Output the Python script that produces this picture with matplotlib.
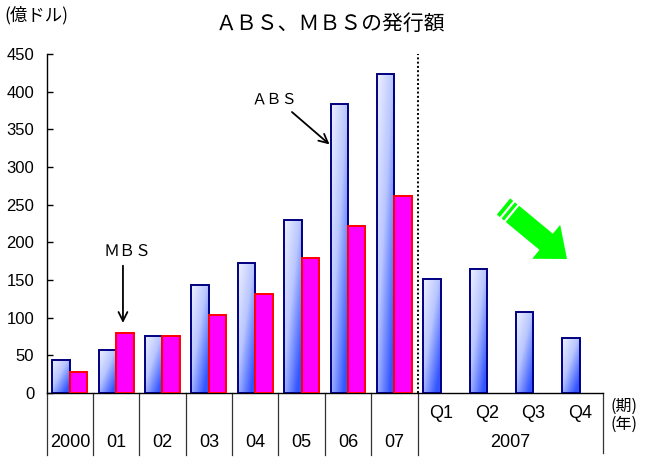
import numpy as np
import matplotlib
matplotlib.use("Agg")
import matplotlib.pyplot as plt
from matplotlib.patches import Polygon
from matplotlib.colors import LinearSegmentedColormap

# ---- data ----
categories = ["2000", "01", "02", "03", "04", "05", "06", "07", "Q1", "Q2", "Q3", "Q4"]
abs_values = [44, 57, 76, 143, 172, 229, 384, 423, 151, 165, 108, 73]
mbs_values = [28, 79, 76, 104, 131, 179, 222, 261]
year_labels = ["2000", "01", "02", "03", "04", "05", "06", "07"]
quarter_labels = ["Q1", "Q2", "Q3", "Q4"]
quarter_year = "2007"
yticks = [0, 50, 100, 150, 200, 250, 300, 350, 400, 450]

NARROW = ["Liberation Sans Narrow", "Liberation Sans", "DejaVu Sans"]
CJK = ["Noto Sans CJK JP", "DejaVu Sans"]

W, H = 645, 457
fig = plt.figure(figsize=(W / 100, H / 100), dpi=100)
ax = fig.add_axes([46.7 / W, 1 - 393 / H, (603 - 46.7) / W, (393 - 54) / H])
ax.set_xlim(0, len(categories))
ax.set_ylim(0, 450)

for s in ["top", "right"]:
    ax.spines[s].set_visible(False)
for s in ["left", "bottom"]:
    ax.spines[s].set_color("black")
    ax.spines[s].set_linewidth(1.0)

ax.set_xticks([])
ax.set_yticks(yticks)
ax.tick_params(axis="y", direction="in", length=4, width=1, pad=9)
for lab in ax.get_yticklabels():
    lab.set_family(NARROW)
    lab.set_fontsize(12)

bw = 0.375
x = np.arange(len(categories)) + 0.5
abs_x = x - 0.19
mbs_x = x[:len(mbs_values)] + 0.185

cmap = LinearSegmentedColormap.from_list("absg", ["#eef1ff", "#b9c6ff", "#3355ff"])
gx, gy = np.meshgrid(np.linspace(0, 1, 40), np.linspace(0, 1, 200))
grad = np.clip(0.55 * gx + 0.6 * gy, 0, 1)  # gy: 0 top -> 1 bottom (origin upper)

abs_bars = ax.bar(abs_x, abs_values, width=bw, facecolor="none",
                  edgecolor="#000080", linewidth=1.4, zorder=3)
for b in abs_bars:
    x0, y0 = b.get_x(), b.get_y()
    w, h = b.get_width(), b.get_height()
    im = ax.imshow(grad, cmap=cmap, vmin=0, vmax=1, aspect="auto",
                   extent=(x0, x0 + w, y0, y0 + h), origin="upper", zorder=2,
                   interpolation="bilinear")
    im.set_clip_path(b)
ax.set_xlim(0, len(categories))
ax.set_ylim(0, 450)

ax.bar(mbs_x, mbs_values, width=bw, facecolor="#ff00ff",
       edgecolor="#ff0000", linewidth=1.4, zorder=3)

# dotted separator between annual and quarterly
ax.axvline(len(year_labels), ymin=0, ymax=1, color="black", linestyle=(0, (1, 1.2)),
           linewidth=1.4, zorder=4)

# bottom table lines
tb = -0.183
for i in range(len(year_labels) + 1):
    ax.plot([i, i], [0, tb], transform=ax.get_xaxis_transform(), color="#333333",
            linewidth=0.9, clip_on=False)
ax.plot([len(categories)] * 2, [0, -0.177], transform=ax.get_xaxis_transform(),
        color="#333333", linewidth=0.9, clip_on=False)

xt = ax.get_xaxis_transform()
for i, lab in enumerate(year_labels):
    ax.text(i + 0.5, -0.145, lab, transform=xt, ha="center", va="center",
            family=NARROW, fontsize=13)
for j, lab in enumerate(quarter_labels):
    ax.text(len(year_labels) + j + 0.5, -0.06, lab, transform=xt, ha="center",
            va="center", family=NARROW, fontsize=13)
ax.text(len(year_labels) + len(quarter_labels) / 2, -0.145, quarter_year,
        transform=xt, ha="center", va="center", family=NARROW, fontsize=13)

# unit labels
fig.text(624 / W, 1 - 406 / H, "(期)", ha="center", va="center", family=CJK, fontsize=11.5)
fig.text(624 / W, 1 - 424 / H, "(年)", ha="center", va="center", family=CJK, fontsize=11.5)
fig.text(4 / W, 1 - 15 / H, "(億ドル)", ha="left", va="center", family=CJK, fontsize=12.5)

# title
fig.text(331 / W, 1 - 24 / H, "ＡＢＳ、ＭＢＳの発行額", ha="center", va="center",
         family=CJK, fontsize=15)

# annotations
ax.annotate("", xy=(1.645, 93), xytext=(1.645, 169),
            arrowprops=dict(arrowstyle="->", color="black", lw=1.3,
                            mutation_scale=16, shrinkA=0, shrinkB=0))
ax.text(1.75, 188, "ＭＢＳ", ha="center", va="center", family=CJK, fontsize=11.5)
ax.annotate("", xy=(6.10, 330), xytext=(5.29, 373),
            arrowprops=dict(arrowstyle="->", color="black", lw=1.3,
                            mutation_scale=16, shrinkA=0, shrinkB=0))
ax.text(4.92, 390, "ＡＢＳ", ha="center", va="center", family=CJK, fontsize=11)

# green arrow (decoration, in pixel space)
tail = np.array([503.5, 206.5])
tip = np.array([567.0, 259.0])
d = tip - tail
L = np.hypot(*d)
u = d / L
n = np.array([-u[1], u[0]])
sw, hw, hl = 21.0, 44.0, 27.0
base = tip - u * hl
pts = [tail + n * sw / 2, base + n * sw / 2, base + n * hw / 2, tip,
       base - n * hw / 2, base - n * sw / 2, tail - n * sw / 2]
def to_fig(p):
    return (p[0] / W, 1 - p[1] / H)
fig.patches.append(Polygon([to_fig(p) for p in pts], closed=True, facecolor="#00ff00",
                           edgecolor="none", transform=fig.transFigure, figure=fig))
for off in (5.0, 10.5):
    a = tail + u * off + n * (sw / 2 + 1)
    b = tail + u * off - n * (sw / 2 + 1)
    fig.add_artist(plt.Line2D([to_fig(a)[0], to_fig(b)[0]], [to_fig(a)[1], to_fig(b)[1]],
                              color="white", linewidth=1.6, transform=fig.transFigure))

fig.savefig("out.png", dpi=100)
